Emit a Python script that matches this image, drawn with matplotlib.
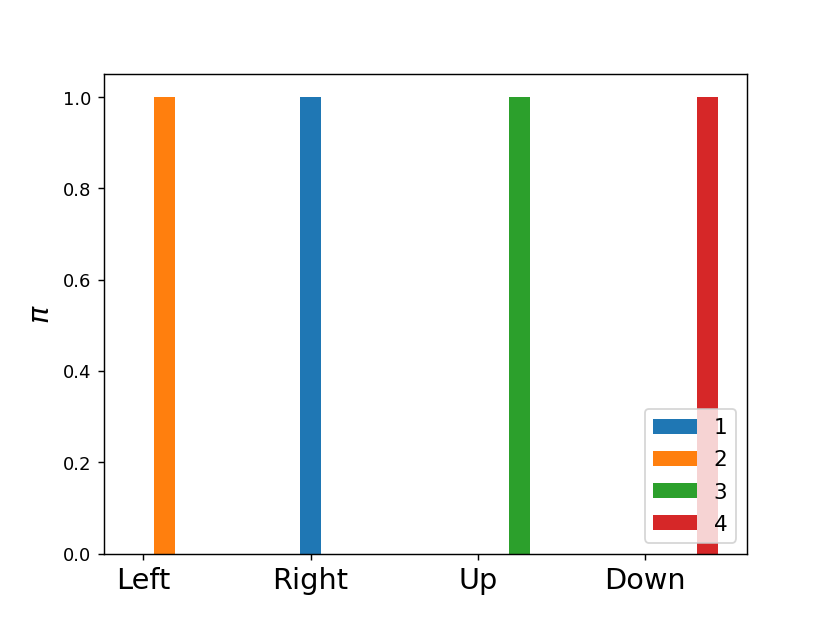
import numpy as np
import matplotlib.pyplot as plt

actions = ["Left", "Right", "Up", "Down"]
series_labels = ["1", "2", "3", "4"]
# policy probability of each action, per series
pi_values = [
    [0.0, 1.0, 0.0, 0.0],
    [1.0, 0.0, 0.0, 0.0],
    [0.0, 0.0, 1.0, 0.0],
    [0.0, 0.0, 0.0, 1.0],
]

width = 0.125
x = np.arange(len(actions))

fig, ax = plt.subplots(figsize=(6.4, 4.8), dpi=129.7)
for i, vals in enumerate(pi_values):
    ax.bar(x + i * width, vals, width, label=series_labels[i])

ax.set_xticks(x)
ax.set_xticklabels(actions, fontsize=16)
ax.set_ylabel(r"$\pi$", fontsize=16)
ax.legend(loc="lower right", fontsize=12, labelspacing=0.56)
fig.savefig("out.png")
